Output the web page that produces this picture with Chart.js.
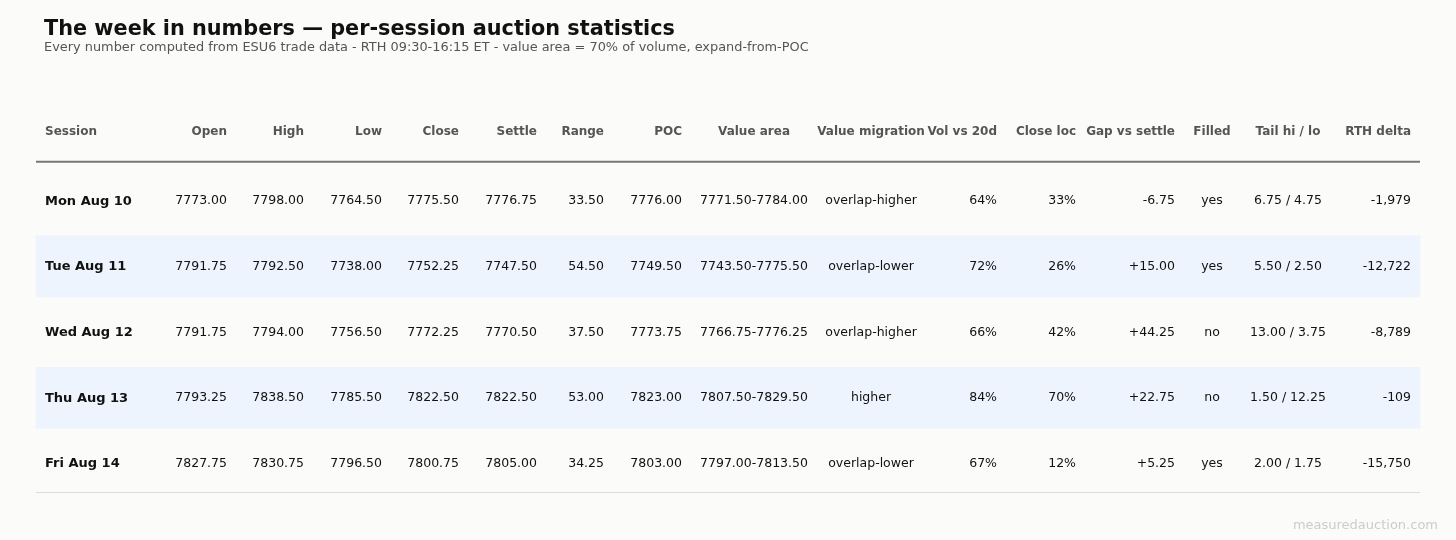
<!DOCTYPE html>
<html>
<head>
<meta charset="utf-8">
<title>The week in numbers</title>
<script src="https://cdn.jsdelivr.net/npm/chart.js@4.4.1/dist/chart.umd.min.js"></script>
<style>
    html, body { margin: 0; padding: 0; background: #fbfbf9; }
    #wrap { width: 1456px; height: 540px; position: relative; }
</style>
</head>
<body>
<div id="wrap"><canvas id="weekTable"></canvas></div>
<script>
// session rows
const sessions = ["Mon Aug 10", "Tue Aug 11", "Wed Aug 12", "Thu Aug 13", "Fri Aug 14"];
const openPx = [7773.00, 7791.75, 7791.75, 7793.25, 7827.75];
const highPx = [7798.00, 7792.50, 7794.00, 7838.50, 7830.75];
const lowPx = [7764.50, 7738.00, 7756.50, 7785.50, 7796.50];
const closePx = [7775.50, 7752.25, 7772.25, 7822.50, 7800.75];
const settlePx = [7776.75, 7747.50, 7770.50, 7822.50, 7805.00];
const rangePts = [33.50, 54.50, 37.50, 53.00, 34.25];
const pocPx = [7776.00, 7749.50, 7773.75, 7823.00, 7803.00];
const vaLow = [7771.50, 7743.50, 7766.75, 7807.50, 7797.00];
const vaHigh = [7784.00, 7775.50, 7776.25, 7829.50, 7813.50];
const migration = ["overlap-higher", "overlap-lower", "overlap-higher", "higher", "overlap-lower"];
const volVs20d = [64, 72, 66, 84, 67];
const closeLoc = [33, 26, 42, 70, 12];
const gapVsSettle = [-6.75, 15.00, 44.25, 22.75, 5.25];
const filled = ["yes", "yes", "no", "no", "yes"];
const tailHi = [6.75, 5.50, 13.00, 1.50, 2.00];
const tailLo = [4.75, 2.50, 3.75, 12.25, 1.75];
const rthDelta = [-1979, -12722, -8789, -109, -15750];

const headers = ["Session", "Open", "High", "Low", "Close", "Settle", "Range", "POC",
    "Value area", "Value migration", "Vol vs 20d", "Close loc", "Gap vs settle",
    "Filled", "Tail hi / lo", "RTH delta"];

const f2 = (v) => v.toFixed(2);
const signed = (v) => (v > 0 ? "+" : "") + v.toFixed(2);

// column layout: anchor on the x scale + text alignment
const columns = [
    { x: 1, align: "left", cell: (i) => sessions[i] },
    { x: 183, align: "right", cell: (i) => f2(openPx[i]) },
    { x: 260, align: "right", cell: (i) => f2(highPx[i]) },
    { x: 338, align: "right", cell: (i) => f2(lowPx[i]) },
    { x: 415, align: "right", cell: (i) => f2(closePx[i]) },
    { x: 493, align: "right", cell: (i) => f2(settlePx[i]) },
    { x: 560, align: "right", cell: (i) => f2(rangePts[i]) },
    { x: 638, align: "right", cell: (i) => f2(pocPx[i]) },
    { x: 710, align: "center", cell: (i) => f2(vaLow[i]) + "-" + f2(vaHigh[i]) },
    { x: 827, align: "center", cell: (i) => migration[i] },
    { x: 953, align: "right", cell: (i) => volVs20d[i] + "%" },
    { x: 1032, align: "right", cell: (i) => closeLoc[i] + "%" },
    { x: 1131, align: "right", cell: (i) => signed(gapVsSettle[i]) },
    { x: 1168, align: "center", cell: (i) => filled[i] },
    { x: 1244, align: "center", cell: (i) => f2(tailHi[i]) + " / " + f2(tailLo[i]) },
    { x: 1367, align: "right", cell: (i) => rthDelta[i].toLocaleString("en-US") },
];

const TABLE_LEFT = -8;
const TABLE_RIGHT = 1376;
const HEADER_ROW = -1.06;
const TEXT_DY = 0.5;
const FONT = "'DejaVu Sans', sans-serif";

const tablePlugin = {
    id: "tableText",
    afterDatasetsDraw(chart) {
        const { ctx, scales: { x, y } } = chart;
        const left = x.getPixelForValue(TABLE_LEFT);
        const right = x.getPixelForValue(TABLE_RIGHT);
        ctx.save();

        // header rule + bottom rule
        ctx.strokeStyle = "#777777";
        ctx.lineWidth = 2;
        ctx.beginPath();
        ctx.moveTo(left, chart.chartArea.top + 1);
        ctx.lineTo(right, chart.chartArea.top + 1);
        ctx.stroke();
        ctx.strokeStyle = "#dddddd";
        ctx.lineWidth = 1;
        ctx.beginPath();
        ctx.moveTo(left, chart.chartArea.bottom - 0.5);
        ctx.lineTo(right, chart.chartArea.bottom - 0.5);
        ctx.stroke();

        ctx.textBaseline = "middle";
        // header labels
        ctx.font = "bold 12px " + FONT;
        ctx.fillStyle = "#555555";
        const hy = y.getPixelForValue(HEADER_ROW) + TEXT_DY;
        columns.forEach((col, c) => {
            ctx.textAlign = col.align;
            ctx.fillText(headers[c], x.getPixelForValue(col.x), hy);
        });

        // body cells
        ctx.fillStyle = "#111111";
        sessions.forEach((s, i) => {
            const py = y.getPixelForValue(i) + TEXT_DY;
            columns.forEach((col, c) => {
                ctx.font = (c === 0 ? "bold 13px " : "12.5px ") + FONT;
                ctx.textAlign = col.align;
                ctx.fillText(col.cell(i), x.getPixelForValue(col.x), py);
            });
        });

        // footer mark
        ctx.font = "13px " + FONT;
        ctx.fillStyle = "#cccccc";
        ctx.textAlign = "right";
        ctx.fillText("measuredauction.com", chart.width - 18, chart.height - 14);
        ctx.restore();
    },
};

// alternate row shading, one floating bar per banded row
const bandRows = sessions.map((s, i) => i).filter((i) => i % 2 === 1);

new Chart(document.getElementById("weekTable"), {
    type: "bar",
    data: {
        datasets: [
            {
                data: bandRows.map((i) => ({ y: i, x: [TABLE_LEFT, TABLE_RIGHT] })),
                backgroundColor: "#edf4fd",
                borderWidth: 0,
                barThickness: 61,
                clip: false,
            },
        ],
    },
    options: {
        indexAxis: "y",
        responsive: true,
        maintainAspectRatio: false,
        animation: false,
        events: [],
        layout: {
            padding: { left: 44, right: 36, top: 0, bottom: 47 },
        },
        scales: {
            x: { type: "linear", min: 0, max: 1376, display: false },
            y: { type: "linear", min: -0.61, max: 4.451, reverse: true, offset: false, grace: 0, display: false },
        },
        plugins: {
            legend: { display: false },
            tooltip: { enabled: false },
            title: {
                display: true,
                text: "The week in numbers \u2014 per-session auction statistics",
                align: "start",
                color: "#111111",
                font: { family: FONT, size: 20.8, weight: "bold", lineHeight: 1.1 },
                padding: { top: 18, bottom: 0 },
            },
            subtitle: {
                display: true,
                text: "Every number computed from ESU6 trade data - RTH 09:30-16:15 ET - value area = 70% of volume, expand-from-POC",
                align: "start",
                color: "#555555",
                font: { family: FONT, size: 12.9, lineHeight: 1.1 },
                padding: { top: 0, bottom: 105.6 },
            },
        },
    },
    plugins: [tablePlugin],
});
</script>
</body>
</html>
